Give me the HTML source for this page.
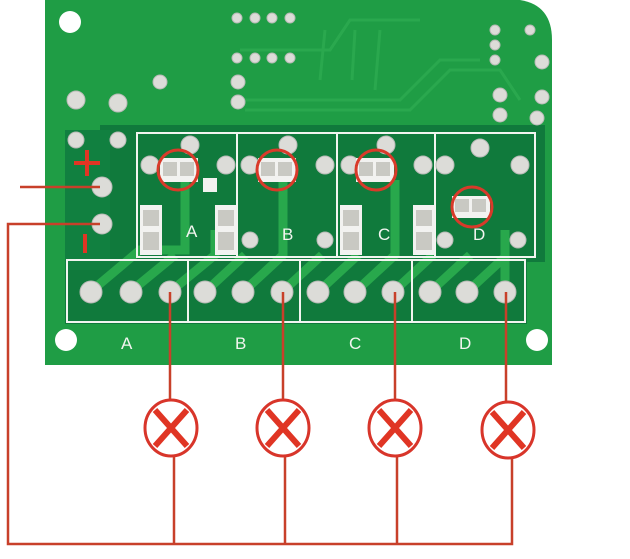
<!DOCTYPE html>
<html><head><style>html,body{margin:0;padding:0;background:#fff;width:630px;height:559px;overflow:hidden}</style></head>
<body>
<svg width="630" height="559" viewBox="0 0 630 559" xmlns="http://www.w3.org/2000/svg" font-family="Liberation Sans, sans-serif">
<rect width="630" height="559" fill="#fff"/>
<path d="M45 0 H520 Q552 5 552 40 V365 H45 Z" fill="#1f9d45"/>
<path d="M100 125 H545 V262 H100 Z" fill="#107a3c"/>
<rect x="65" y="258" width="462" height="66" fill="#107a3c"/>
<path d="M65 130 H110 V270 H65 Z" fill="#118040"/>
<g stroke="#28a84c" stroke-width="9" fill="none">
<path d="M90 292 L140 250 H185 V180"/><path d="M130 292 L175 255"/><path d="M170 292 L215 255 V230"/>
<path d="M205 292 L245 255"/><path d="M243 292 L283 255 V180"/><path d="M282 292 L322 255"/>
<path d="M318 292 L358 255"/><path d="M355 292 L395 255 V180"/><path d="M393 292 L433 255"/>
<path d="M430 292 L470 255"/><path d="M467 292 L507 255"/><path d="M505 292 L505 230"/>
</g>
<g stroke="#2aa84e" stroke-width="3" fill="none">
<path d="M240 50 H330 L350 20 H420"/><path d="M245 100 H400 L440 60 H480"/><path d="M245 110 H410 L450 70 H500 L520 100"/>
<path d="M325 30 L320 80"/><path d="M355 30 L352 80"/><path d="M380 30 L375 90"/>
</g>
<g stroke="#f2f5f0" stroke-width="2" fill="none">
<rect x="137" y="133" width="398" height="124"/>
<line x1="237" y1="133" x2="237" y2="257"/><line x1="337" y1="133" x2="337" y2="257"/><line x1="435" y1="133" x2="435" y2="257"/>
<rect x="67" y="260" width="458" height="62"/>
<line x1="188" y1="260" x2="188" y2="322"/><line x1="300" y1="260" x2="300" y2="322"/><line x1="412" y1="260" x2="412" y2="322"/>
</g>
<g fill="#fff"><circle cx="70" cy="22" r="11"/><circle cx="66" cy="340" r="11"/><circle cx="537" cy="340" r="11"/></g>
<g fill="#dcdcd8" stroke="#b8bab6" stroke-width="1">
<circle cx="91" cy="292" r="11"/><circle cx="131" cy="292" r="11"/><circle cx="170" cy="292" r="11"/>
<circle cx="205" cy="292" r="11"/><circle cx="243" cy="292" r="11"/><circle cx="282" cy="292" r="11"/>
<circle cx="318" cy="292" r="11"/><circle cx="355" cy="292" r="11"/><circle cx="393" cy="292" r="11"/>
<circle cx="430" cy="292" r="11"/><circle cx="467" cy="292" r="11"/><circle cx="505" cy="292" r="11"/>
<circle cx="102" cy="187" r="10"/><circle cx="102" cy="224" r="10"/>
<circle cx="76" cy="100" r="9"/><circle cx="118" cy="103" r="9"/><circle cx="76" cy="140" r="8"/><circle cx="118" cy="140" r="8"/>
<circle cx="160" cy="82" r="7"/><circle cx="238" cy="82" r="7"/><circle cx="238" cy="102" r="7"/>
<circle cx="150" cy="165" r="9"/><circle cx="226" cy="165" r="9"/><circle cx="190" cy="145" r="9"/>
<circle cx="250" cy="165" r="9"/><circle cx="325" cy="165" r="9"/><circle cx="288" cy="145" r="9"/>
<circle cx="350" cy="165" r="9"/><circle cx="423" cy="165" r="9"/><circle cx="386" cy="145" r="9"/>
<circle cx="445" cy="165" r="9"/><circle cx="520" cy="165" r="9"/><circle cx="480" cy="148" r="9"/>
<circle cx="250" cy="240" r="8"/><circle cx="325" cy="240" r="8"/><circle cx="445" cy="240" r="8"/><circle cx="518" cy="240" r="8"/>
<circle cx="237" cy="18" r="5"/><circle cx="255" cy="18" r="5"/><circle cx="272" cy="18" r="5"/><circle cx="290" cy="18" r="5"/>
<circle cx="237" cy="58" r="5"/><circle cx="255" cy="58" r="5"/><circle cx="272" cy="58" r="5"/><circle cx="290" cy="58" r="5"/>
<circle cx="495" cy="30" r="5"/><circle cx="495" cy="45" r="5"/><circle cx="495" cy="60" r="5"/><circle cx="530" cy="30" r="5"/>
<circle cx="542" cy="62" r="7"/><circle cx="542" cy="97" r="7"/><circle cx="500" cy="95" r="7"/><circle cx="500" cy="115" r="7"/><circle cx="537" cy="118" r="7"/>
</g>
<g fill="#f2f2f0"><rect x="160" y="158" width="38" height="24"/><rect x="258" y="158" width="38" height="24"/><rect x="356" y="158" width="38" height="24"/><rect x="452" y="196" width="38" height="22"/>
<rect x="140" y="205" width="22" height="50"/><rect x="215" y="205" width="22" height="50"/><rect x="340" y="205" width="22" height="50"/><rect x="413" y="205" width="22" height="50"/><rect x="203" y="178" width="14" height="14"/></g>
<g fill="#c9c9c3"><rect x="163" y="162" width="14" height="14"/><rect x="180" y="162" width="14" height="14"/><rect x="261" y="162" width="14" height="14"/><rect x="278" y="162" width="14" height="14"/><rect x="359" y="162" width="14" height="14"/><rect x="376" y="162" width="14" height="14"/><rect x="455" y="199" width="14" height="13"/><rect x="472" y="199" width="14" height="13"/>
<rect x="143" y="210" width="16" height="16"/><rect x="143" y="232" width="16" height="18"/><rect x="218" y="210" width="16" height="16"/><rect x="218" y="232" width="16" height="18"/><rect x="343" y="210" width="16" height="16"/><rect x="343" y="232" width="16" height="18"/><rect x="416" y="210" width="16" height="16"/><rect x="416" y="232" width="16" height="18"/></g>
<g fill="#f2f5f0" font-size="17">
<text x="186" y="237">A</text><text x="282" y="240">B</text><text x="378" y="240">C</text><text x="473" y="240">D</text>
<text x="121" y="349">A</text><text x="235" y="349">B</text><text x="349" y="349">C</text><text x="459" y="349">D</text>
</g>
<g stroke="#d93a2a" fill="none" stroke-width="3">
<circle cx="178" cy="170" r="20"/><circle cx="277" cy="170" r="20"/><circle cx="376" cy="170" r="20"/><circle cx="472" cy="207" r="20"/>
</g>
<g stroke="#e03524" stroke-width="4"><line x1="74" y1="163" x2="100" y2="163"/><line x1="87" y1="150" x2="87" y2="176"/><line x1="85" y1="234" x2="85" y2="253"/></g>
<g stroke="#c8402a" stroke-width="2.5" fill="none">
<path d="M20 187 H100"/><path d="M100 224 H8 V544 H512 V458"/>
<path d="M170 292 V400"/><path d="M174 456 V544"/>
<path d="M283 292 V400"/><path d="M285 456 V544"/>
<path d="M395 292 V400"/><path d="M397 456 V544"/>
<path d="M506 292 V402"/>
</g>
<g stroke="#d8352a" fill="#fff" stroke-width="3">
<ellipse cx="171" cy="428" rx="26" ry="28"/><ellipse cx="283" cy="428" rx="26" ry="28"/><ellipse cx="395" cy="428" rx="26" ry="28"/><ellipse cx="508" cy="430" rx="26" ry="28"/>
</g>
<g stroke="#e03524" stroke-width="6">
<path d="M155 410 L187 446 M187 410 L155 446"/><path d="M267 410 L299 446 M299 410 L267 446"/><path d="M379 410 L411 446 M411 410 L379 446"/><path d="M492 412 L524 448 M524 412 L492 448"/>
</g>
</svg>
</body></html>
